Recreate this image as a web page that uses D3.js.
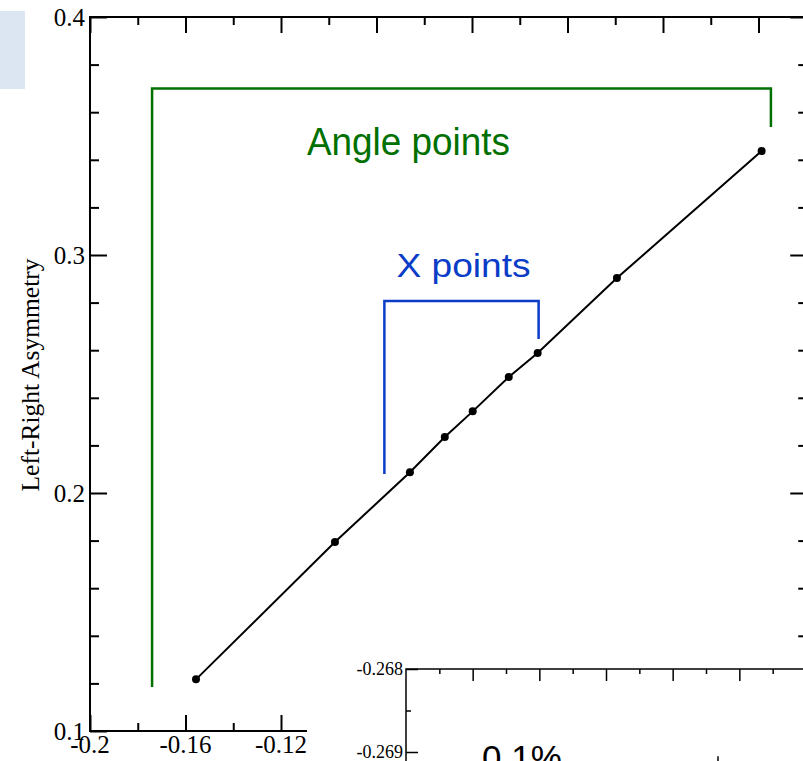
<!DOCTYPE html>
<html>
<head>
<meta charset="utf-8">
<script src="https://cdn.jsdelivr.net/npm/d3@7"></script>
<style>
  html, body { margin: 0; padding: 0; background: #fff; }
  svg { display: block; }
</style>
</head>
<body>
<svg id="chart" width="803" height="761"></svg>
<script>
// Asymmetry measurements (x: shift, y: left-right asymmetry)
const xValues = [-0.1556, -0.0974, -0.0660, -0.0514, -0.0397, -0.0246, -0.0125, 0.0207, 0.0813];
const yValues = [0.1217, 0.1794, 0.2087, 0.2235, 0.2343, 0.2487, 0.2588, 0.2903, 0.3437];

// Bracket outlines grouping the two kinds of points (data coordinates)
const angleBracket = [[-0.174, 0.1185], [-0.174, 0.370], [0.0852, 0.370], [0.0852, 0.3538]];
const xBracket = [[-0.0767, 0.208], [-0.0767, 0.2807], [-0.0121, 0.2807], [-0.0121, 0.2647]];
const bracketLabels = ["Angle points", "X points"];

// Axis ticks
const xMajorTicks = [-0.2, -0.16, -0.12, -0.08, -0.04, 0, 0.04, 0.08];
const xMinorTicks = [-0.18, -0.14, -0.1, -0.06, -0.02, 0.02, 0.06, 0.1];
const yMajorTicks = [0.1, 0.2, 0.3, 0.4];
const yMinorTicks = [0.12, 0.14, 0.16, 0.18, 0.22, 0.24, 0.26, 0.28, 0.32, 0.34, 0.36, 0.38];
const yTitle = "Left-Right Asymmetry";

// Inset panel
const insetYTicks = [-0.268, -0.269];
const insetYMinor = [-0.2685];
const insetXMajor = [1, 2, 3, 4, 5, 6];
const insetXMinor = [0.5, 1.5, 2.5, 3.5, 4.5, 5.5];
const insetPointsX = [4.68];
const insetPointsY = [-0.2692];
const insetErr = [0.00015];
const insetLabel = "0.1%";

const svg = d3.select("#chart");
const serif = "'Liberation Serif', 'Times New Roman', serif";
const sans = "'Liberation Sans', Arial, sans-serif";

const x = d3.scaleLinear().domain([-0.2, 0.1]).range([90, 806.25]);
const y = d3.scaleLinear().domain([0.1, 0.4]).range([731, 17]);

// light blue tab in the corner
svg.append("rect").attr("x", 0).attr("y", 11).attr("width", 25).attr("height", 78).attr("fill", "#dce6f2");

// plain hyphen for negatives
const fmt = d => d3.format("~g")(d).replace("\u2212", "-");

// axes drawn with d3 axis generators
function axisGroup(gen, transform) {
  const g = svg.append("g").attr("transform", transform).call(gen);
  g.select(".domain").remove();
  g.selectAll("line").attr("stroke", "#000").attr("stroke-width", 2);
  return g;
}
// bottom
axisGroup(d3.axisTop(x).tickValues(xMajorTicks).tickSize(16).tickFormat(""), `translate(0,${y(0.1)})`);
axisGroup(d3.axisTop(x).tickValues(xMinorTicks).tickSize(8).tickFormat(""), `translate(0,${y(0.1)})`);
// top
axisGroup(d3.axisBottom(x).tickValues(xMajorTicks).tickSize(16).tickFormat(""), `translate(0,${y(0.4)})`);
axisGroup(d3.axisBottom(x).tickValues(xMinorTicks).tickSize(8).tickFormat(""), `translate(0,${y(0.4)})`);
// left
axisGroup(d3.axisRight(y).tickValues(yMajorTicks).tickSize(17).tickFormat(""), `translate(${x(-0.2)},0)`);
axisGroup(d3.axisRight(y).tickValues(yMinorTicks).tickSize(9).tickFormat(""), `translate(${x(-0.2)},0)`);
// right
axisGroup(d3.axisLeft(y).tickValues(yMajorTicks).tickSize(16).tickFormat(""), `translate(${x(0.1)},0)`);
axisGroup(d3.axisLeft(y).tickValues(yMinorTicks).tickSize(8).tickFormat(""), `translate(${x(0.1)},0)`);

// frame
svg.append("rect")
  .attr("x", x(-0.2)).attr("y", y(0.4))
  .attr("width", x(0.1) - x(-0.2)).attr("height", y(0.1) - y(0.4))
  .attr("fill", "none").attr("stroke", "#000").attr("stroke-width", 2);

// tick labels
svg.append("g").selectAll("text").data(yMajorTicks).join("text")
  .attr("x", x(-0.2) - 5).attr("y", d => y(d)).attr("dy", "0.34em")
  .attr("text-anchor", "end").attr("font-family", serif).attr("font-size", 25)
  .text(fmt);
svg.append("g").selectAll("text").data(xMajorTicks).join("text")
  .attr("x", d => x(d)).attr("y", y(0.1) + 22)
  .attr("text-anchor", "middle").attr("font-family", serif).attr("font-size", 25)
  .text(fmt);

// axis title
svg.append("text")
  .attr("transform", `translate(39,${(y(0.1) + y(0.4)) / 2 + 1}) rotate(-90)`)
  .attr("text-anchor", "middle").attr("font-family", serif).attr("font-size", 25.5)
  .text(yTitle);

// data line and points
const pts = xValues.map((v, i) => [v, yValues[i]]);
svg.append("path")
  .attr("d", d3.line().x(d => x(d[0])).y(d => y(d[1]))(pts))
  .attr("fill", "none").attr("stroke", "#000").attr("stroke-width", 2);
svg.append("g").selectAll("circle").data(pts).join("circle")
  .attr("cx", d => x(d[0])).attr("cy", d => y(d[1])).attr("r", 4).attr("fill", "#000");

// brackets and their labels
const bracketLine = d3.line().x(d => x(d[0])).y(d => y(d[1]));
svg.append("path").attr("d", bracketLine(angleBracket))
  .attr("fill", "none").attr("stroke", "#007000").attr("stroke-width", 2.5);
svg.append("path").attr("d", bracketLine(xBracket))
  .attr("fill", "none").attr("stroke", "#0a3cc8").attr("stroke-width", 2.5);

svg.append("text")
  .attr("x", (x(angleBracket[1][0]) + x(angleBracket[2][0])) / 2 - 53).attr("y", 155)
  .attr("text-anchor", "middle").attr("font-family", sans).attr("font-size", 38)
  .attr("textLength", 203).attr("lengthAdjust", "spacingAndGlyphs")
  .attr("fill", "#007000").text(bracketLabels[0]);
svg.append("text")
  .attr("x", (x(xBracket[1][0]) + x(xBracket[2][0])) / 2 + 2).attr("y", 277)
  .attr("text-anchor", "middle").attr("font-family", sans).attr("font-size", 34)
  .attr("textLength", 134).attr("lengthAdjust", "spacingAndGlyphs")
  .attr("fill", "#0a3cc8").text(bracketLabels[1]);

// inset panel
svg.append("rect").attr("x", 307).attr("y", 648).attr("width", 500).attr("height", 120).attr("fill", "#fff");
const ix = d3.scaleLinear().domain([0, 6]).range([406, 806]);
const iy = d3.scaleLinear().domain([-0.268, -0.269]).range([669, 752]);

function insetAxis(gen, transform) {
  const g = svg.append("g").attr("transform", transform).call(gen);
  g.select(".domain").remove();
  g.selectAll("line").attr("stroke", "#000").attr("stroke-width", 1.5);
  return g;
}
insetAxis(d3.axisBottom(ix).tickValues(insetXMajor).tickSize(12).tickFormat(""), `translate(0,${iy(-0.268)})`);
insetAxis(d3.axisBottom(ix).tickValues(insetXMinor).tickSize(5).tickFormat(""), `translate(0,${iy(-0.268)})`);
insetAxis(d3.axisRight(iy).tickValues(insetYTicks).tickSize(12).tickFormat(""), `translate(${ix(0)},0)`);
insetAxis(d3.axisRight(iy).tickValues(insetYMinor).tickSize(5).tickFormat(""), `translate(${ix(0)},0)`);
svg.append("path")
  .attr("d", `M${ix(6)},${iy(-0.268)}H${ix(0)}V${iy(-0.2695)}`)
  .attr("fill", "none").attr("stroke", "#000").attr("stroke-width", 1.5);
svg.append("g").selectAll("text").data(insetYTicks).join("text")
  .attr("x", ix(0) - 3).attr("y", d => iy(d)).attr("dy", "0.34em")
  .attr("text-anchor", "end").attr("font-family", serif).attr("font-size", 18)
  .text(d => d3.format(".3f")(d).replace("\u2212", "-"));
// error bars in the inset
svg.append("g").selectAll("line").data(insetPointsX).join("line")
  .attr("x1", d => ix(d)).attr("x2", d => ix(d))
  .attr("y1", (d, i) => iy(insetPointsY[i] + insetErr[i]))
  .attr("y2", (d, i) => iy(insetPointsY[i] - insetErr[i]))
  .attr("stroke", "#000").attr("stroke-width", 1.5);
svg.append("text")
  .attr("x", 482).attr("y", 770)
  .attr("font-family", sans).attr("font-size", 35).attr("fill", "#000")
  .text(insetLabel);
</script>
</body>
</html>
